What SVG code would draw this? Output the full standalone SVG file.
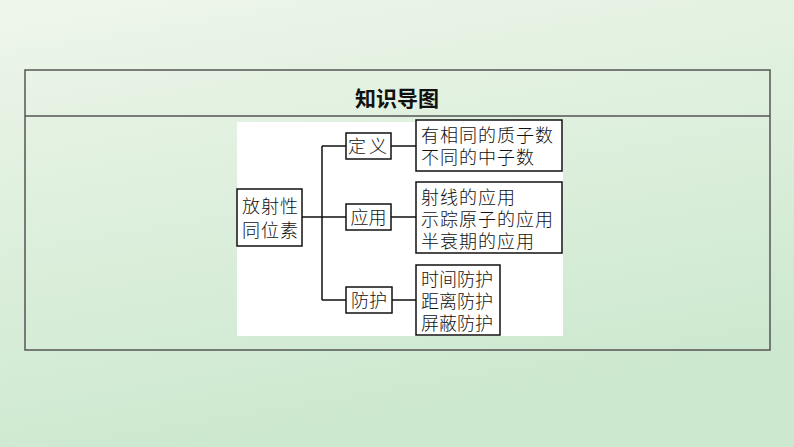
<svg xmlns="http://www.w3.org/2000/svg" width="794" height="447" viewBox="0 0 794 447">
<defs><linearGradient id="bg" x1="0" y1="0" x2="0.3" y2="1"><stop offset="0" stop-color="#eef6ea"/><stop offset="1" stop-color="#cce8cf"/></linearGradient>
<style>.b{fill:#fff;stroke:#111;stroke-width:1.5}.t{font-family:"Noto Sans CJK SC",sans-serif;font-size:18px;font-weight:300;fill:#111}.c{stroke:#111;stroke-width:1.5;fill:none}</style></defs>
<rect width="794" height="447" fill="url(#bg)"/>
<rect x="25" y="70" width="745" height="280" fill="none" stroke="#555" stroke-width="1.5"/>
<line x1="25" y1="116" x2="770" y2="116" stroke="#555" stroke-width="1.5"/>
<text x="397" y="106" text-anchor="middle" style="font-family:'Noto Sans CJK SC',sans-serif;font-size:21px;font-weight:bold;fill:#111">知识导图</text>
<rect x="237" y="122" width="326" height="214" fill="#fff"/>
<g id="connectors" class="c"><path d="M302 217H346M322 146V300M322 146H346M322 300H346M391 146H416M391 217H416M392 300H416"/></g>
<g id="root"><rect class="b" x="237" y="189" width="65" height="57"/><text class="t" x="242" y="213" letter-spacing="1">放射性</text><text class="t" x="242" y="237" letter-spacing="1">同位素</text></g>
<g id="n1"><rect class="b" x="346" y="133" width="45" height="26"/><text class="t" x="369" y="152.5" text-anchor="middle" letter-spacing="3">定义</text></g>
<g id="n2"><rect class="b" x="346" y="204" width="45" height="26"/><text class="t" x="368.5" y="223.5" text-anchor="middle">应用</text></g>
<g id="n3"><rect class="b" x="346" y="287" width="46" height="26"/><text class="t" x="369" y="306.5" text-anchor="middle">防护</text></g>
<g id="d1"><rect class="b" x="416" y="120" width="146" height="51"/><text class="t" x="421" y="142" letter-spacing="1">有相同的质子数</text><text class="t" x="421" y="164" letter-spacing="1">不同的中子数</text></g>
<g id="d2"><rect class="b" x="416" y="182" width="146" height="71"/><text class="t" x="421" y="204" letter-spacing="1">射线的应用</text><text class="t" x="421" y="226" letter-spacing="1">示踪原子的应用</text><text class="t" x="421" y="248" letter-spacing="1">半衰期的应用</text></g>
<g id="d3"><rect class="b" x="416" y="265" width="84" height="70"/><text class="t" x="421" y="286">时间防护</text><text class="t" x="421" y="308">距离防护</text><text class="t" x="421" y="330">屏蔽防护</text></g>
</svg>
